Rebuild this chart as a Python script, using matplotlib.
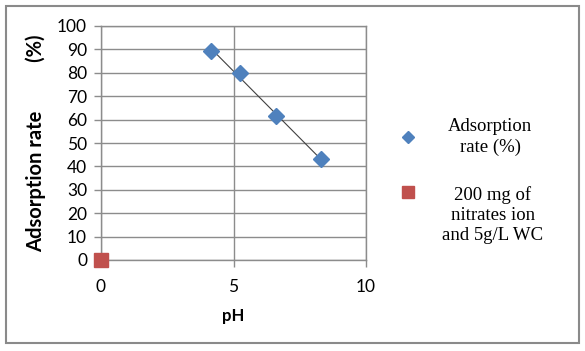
import matplotlib
matplotlib.use('Agg')
import matplotlib.pyplot as plt
import numpy as np
from matplotlib.lines import Line2D
from matplotlib.patches import Rectangle

# data
ph = [4.15, 5.25, 6.6, 8.3]
adsorption = [89.2, 80.0, 61.5, 43.0]
ref_x = [0]
ref_y = [0]

x_ticks = [0, 5, 10]
y_ticks = list(range(0, 101, 10))

legend_labels = ['Adsorption\nrate (%)', '200 mg of\nnitrates ion\nand 5g/L WC']

blue = '#4F81BD'
red = '#C0504D'
grid = '#8c8c8c'

fig = plt.figure(figsize=(5.85, 3.51), dpi=100)
ax = fig.add_axes([101 / 585, 1 - 260 / 351, 265 / 585, 234 / 351])

# trend line through the blue points
coef = np.polyfit(ph, adsorption, 1)
xs = np.array([min(ph), max(ph)])
ax.plot(xs, np.polyval(coef, xs), color='#404040', lw=0.8, zorder=2)

ax.plot(ph, adsorption, ls='none', marker='D', ms=8, color=blue, zorder=3)
ax.plot(ref_x, ref_y, ls='none', marker='s', ms=10, color=red, zorder=4, clip_on=False)

ax.set_xlim(0, 10)
ax.set_ylim(0, 100)
ax.set_xticks(x_ticks)
ax.set_yticks(y_ticks)
ax.grid(True, color=grid, lw=1)
ax.set_axisbelow(True)
for s in ax.spines.values():
    s.set_color(grid)
    s.set_linewidth(1)
ax.tick_params(length=5, color=grid, width=1, labelsize=12.5, pad=5)
ax.tick_params(axis='x', pad=9)
for lab in ax.get_xticklabels() + ax.get_yticklabels():
    lab.set_fontfamily('Lato')

ax.set_xlabel('pH', fontfamily='Lato', fontweight='bold', fontsize=12, labelpad=9)
ax.set_ylabel('Adsorption rate          (%)', fontfamily='Lato', fontweight='bold',
              fontsize=14.5, labelpad=8)

# legend on the right, drawn by hand so the text sits like the original
fig.add_artist(Line2D([408 / 585], [1 - 137 / 351], ls='none', marker='D', ms=6,
                      color=blue, transform=fig.transFigure))
fig.add_artist(Line2D([408 / 585], [1 - 192 / 351], ls='none', marker='s', ms=8,
                      color=red, transform=fig.transFigure))
fig.text(490 / 585, 1 - 118 / 351, legend_labels[0], ha='center', va='top',
         multialignment='center', family='Liberation Serif', fontsize=13.5, linespacing=1.25)
fig.text(493 / 585, 1 - 186 / 351, legend_labels[1], ha='center', va='top',
         multialignment='center', family='Liberation Serif', fontsize=13.5, linespacing=1.25)

# outer frame
fig.add_artist(Rectangle((6 / 585, 1 - 343 / 351), 573 / 585, 337 / 351,
                         transform=fig.transFigure, fill=False, edgecolor='#8a8a8a', lw=1.5))

fig.savefig('out.png', dpi=100)
